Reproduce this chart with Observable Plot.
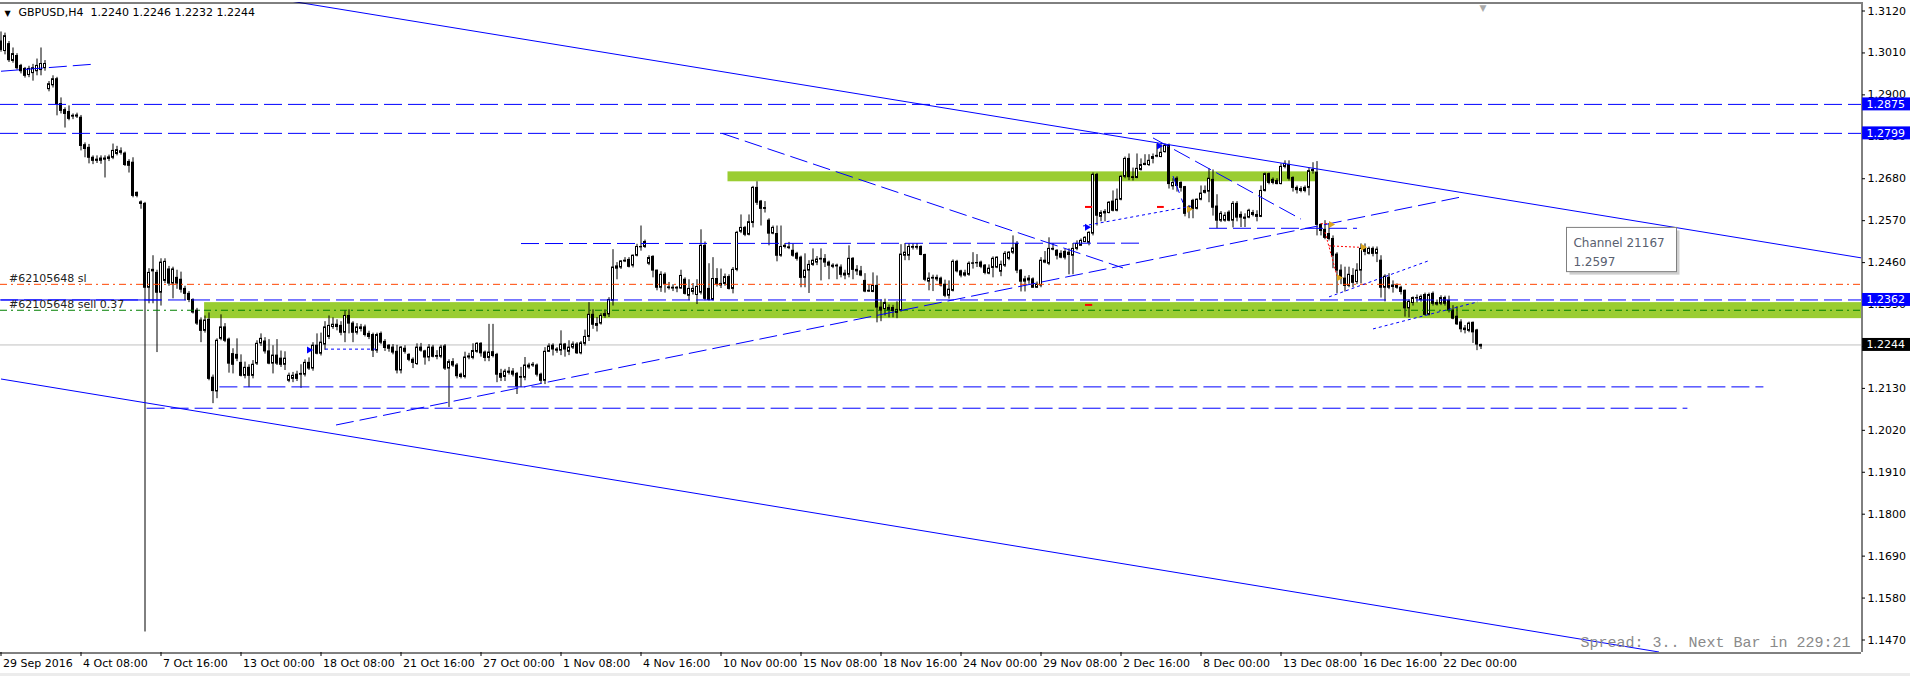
<!DOCTYPE html>
<html><head><meta charset="utf-8">
<script src="https://cdn.jsdelivr.net/npm/d3@7"></script>
<script src="https://cdn.jsdelivr.net/npm/@observablehq/plot@0.6"></script>
<style>
html,body{margin:0;padding:0;background:#fff;}
#chart svg{display:block;}
#strip{height:3px;background:#ececec;}
</style></head><body>
<div id="chart"></div><div id="strip"></div>
<script>
// ---- DATA: GBPUSD H4 candles [open, high, low, close] ----
const ohlcSepOct = [
[1.3040,1.3065,1.3012,1.3018],[1.3015,1.3062,1.3005,1.3054],[1.3033,1.3040,1.2985,1.2991],[1.2989,1.3023,1.2983,1.3007],
[1.3002,1.3008,1.2965,1.2970],[1.2976,1.2980,1.2955,1.2962],[1.2968,1.2972,1.2944,1.2950],[1.2952,1.2975,1.2945,1.2968],
[1.2957,1.2980,1.2936,1.2970],[1.2962,1.2994,1.2950,1.2976],[1.2965,1.3023,1.2950,1.2981],[1.2970,1.2990,1.2962,1.2981],
[1.2915,1.2935,1.2908,1.2928],[1.2925,1.2950,1.2918,1.2941],[1.2941,1.2946,1.2845,1.2876],[1.2876,1.2892,1.2850,1.2858],
[1.2860,1.2866,1.2813,1.2850],[1.2855,1.2871,1.2832,1.2837],[1.2845,1.2850,1.2835,1.2843],[1.2843,1.2852,1.2838,1.2846],
[1.2840,1.2846,1.2753,1.2766],[1.2768,1.2774,1.2735,1.2758],[1.2761,1.2770,1.2719,1.2735],[1.2735,1.2740,1.2717,1.2727],
[1.2730,1.2740,1.2720,1.2727],[1.2727,1.2740,1.2718,1.2733],[1.2733,1.2740,1.2682,1.2730],[1.2732,1.2742,1.2725,1.2736],
[1.2735,1.2771,1.2730,1.2753],[1.2745,1.2765,1.2740,1.2755],[1.2752,1.2761,1.2742,1.2748],[1.2746,1.2750,1.2712,1.2716],
[1.2724,1.2730,1.2695,1.2714],[1.2722,1.2735,1.2630,1.2635],[1.2643,1.2645,1.2630,1.2635],[1.2618,1.2622,1.2600,1.2614],
[1.2614,1.2618,1.1491,1.2394],[1.2394,1.2444,1.2352,1.2433],[1.2441,1.2478,1.2352,1.2437],[1.2433,1.2440,1.2224,1.2381],
[1.2381,1.2470,1.2346,1.2460],[1.2412,1.2470,1.2405,1.2462],[1.2442,1.2450,1.2398,1.2405],[1.2405,1.2448,1.2365,1.2442],
[1.2420,1.2440,1.2390,1.2405],[1.2415,1.2435,1.2380,1.2389],[1.2391,1.2398,1.2360,1.2378],[1.2378,1.2384,1.2355,1.2362],
[1.2362,1.2365,1.2325,1.2329],[1.2334,1.2340,1.2295,1.2300],[1.2308,1.2315,1.2250,1.2281],[1.2281,1.2320,1.2275,1.2308],
[1.2310,1.2328,1.2150,1.2155],[1.2158,1.2165,1.2090,1.2123],[1.2122,1.2260,1.2103,1.2255],[1.2260,1.2323,1.2255,1.2290],
[1.2290,1.2300,1.2250,1.2255],[1.2258,1.2262,1.2170,1.2195],[1.2220,1.2234,1.2168,1.2192],[1.2218,1.2260,1.2200,1.2208],
[1.2197,1.2218,1.2160,1.2163],[1.2163,1.2199,1.2155,1.2184],[1.2184,1.2192,1.2132,1.2163],[1.2163,1.2203,1.2155,1.2192],
[1.2195,1.2255,1.2190,1.2247],[1.2248,1.2273,1.2240,1.2260],[1.2253,1.2263,1.2220,1.2227],[1.2227,1.2258,1.2192,1.2195],
[1.2195,1.2242,1.2168,1.2216],[1.2216,1.2258,1.2190,1.2195],[1.2208,1.2228,1.2185,1.2192],[1.2192,1.2226,1.2177,1.2208],
[1.2150,1.2170,1.2145,1.2163],[1.2155,1.2172,1.2145,1.2163],[1.2166,1.2175,1.2148,1.2155],[1.2168,1.2192,1.2130,1.2166],
[1.2166,1.2205,1.2160,1.2197],[1.2197,1.2210,1.2177,1.2182],[1.2182,1.2250,1.2175,1.2242],[1.2242,1.2273,1.2218,1.2221],
[1.2221,1.2275,1.2215,1.2250],[1.2245,1.2305,1.2230,1.2290],[1.2265,1.2320,1.2258,1.2294],[1.2291,1.2315,1.2285,1.2297],
[1.2297,1.2310,1.2281,1.2291],[1.2294,1.2305,1.2268,1.2276],[1.2276,1.2334,1.2250,1.2320],[1.2320,1.2336,1.2273,1.2300],
[1.2300,1.2305,1.2250,1.2276],[1.2276,1.2300,1.2270,1.2290],[1.2290,1.2298,1.2278,1.2286],[1.2290,1.2296,1.2265,1.2270],
[1.2273,1.2280,1.2258,1.2265],[1.2270,1.2275,1.2211,1.2229],[1.2229,1.2275,1.2222,1.2270],[1.2273,1.2278,1.2245,1.2250],
[1.2252,1.2258,1.2227,1.2236],[1.2242,1.2245,1.2225,1.2234],[1.2237,1.2245,1.2218,1.2224],[1.2226,1.2243,1.2168,1.2177]
];
const ohlcOctNov = [
[1.2177,1.2240,1.2168,1.2237],[1.2234,1.2242,1.2220,1.2226],[1.2218,1.2221,1.2200,1.2205],[1.2205,1.2210,1.2182,1.2197],
[1.2194,1.2247,1.2190,1.2237],[1.2237,1.2248,1.2225,1.2229],[1.2227,1.2230,1.2191,1.2211],[1.2211,1.2245,1.2200,1.2237],
[1.2237,1.2243,1.2210,1.2213],[1.2215,1.2229,1.2205,1.2213],[1.2213,1.2243,1.2208,1.2237],[1.2240,1.2245,1.2177,1.2182],
[1.2182,1.2205,1.2080,1.2199],[1.2199,1.2208,1.2185,1.2190],[1.2190,1.2195,1.2155,1.2162],[1.2166,1.2170,1.2155,1.2160],
[1.2160,1.2225,1.2155,1.2211],[1.2211,1.2222,1.2205,1.2214],[1.2210,1.2247,1.2205,1.2228],[1.2226,1.2250,1.2222,1.2247],
[1.2247,1.2250,1.2212,1.2222],[1.2224,1.2228,1.2200,1.2210],[1.2210,1.2298,1.2200,1.2224],[1.2225,1.2298,1.2210,1.2215],
[1.2218,1.2222,1.2145,1.2166],[1.2168,1.2180,1.2148,1.2158],[1.2160,1.2180,1.2148,1.2174],[1.2174,1.2185,1.2165,1.2171],
[1.2174,1.2182,1.2160,1.2166],[1.2168,1.2172,1.2114,1.2135],[1.2160,1.2185,1.2132,1.2158],[1.2158,1.2211,1.2150,1.2190],
[1.2185,1.2196,1.2180,1.2190],[1.2190,1.2198,1.2185,1.2192],[1.2190,1.2194,1.2160,1.2166],[1.2166,1.2170,1.2142,1.2150],
[1.2150,1.2237,1.2140,1.2226],[1.2226,1.2247,1.2224,1.2240],[1.2242,1.2247,1.2215,1.2232],[1.2232,1.2237,1.2222,1.2229],
[1.2229,1.2281,1.2216,1.2245],[1.2245,1.2248,1.2212,1.2232],[1.2226,1.2255,1.2216,1.2237],[1.2237,1.2252,1.2232,1.2245],
[1.2245,1.2250,1.2219,1.2222],[1.2222,1.2253,1.2218,1.2248],[1.2247,1.2283,1.2241,1.2265],[1.2265,1.2355,1.2253,1.2323],
[1.2323,1.2336,1.2285,1.2297],[1.2294,1.2316,1.2278,1.2299],[1.2300,1.2326,1.2296,1.2320],[1.2320,1.2336,1.2314,1.2325],
[1.2324,1.2368,1.2316,1.2362],[1.2360,1.2494,1.2346,1.2447],[1.2444,1.2460,1.2415,1.2450],[1.2447,1.2465,1.2442,1.2463],
[1.2463,1.2473,1.2460,1.2465],[1.2467,1.2473,1.2446,1.2449],[1.2452,1.2480,1.2446,1.2478],[1.2478,1.2508,1.2475,1.2501],
[1.2500,1.2556,1.2490,1.2501],[1.2501,1.2519,1.2497,1.2514],[1.2457,1.2478,1.2452,1.2472],[1.2475,1.2478,1.2420,1.2439],
[1.2439,1.2440,1.2386,1.2394],[1.2394,1.2436,1.2382,1.2428],[1.2428,1.2433,1.2380,1.2404],[1.2395,1.2408,1.2388,1.2393],
[1.2392,1.2402,1.2384,1.2394],[1.2394,1.2397,1.2381,1.2392],[1.2392,1.2440,1.2390,1.2425],[1.2415,1.2420,1.2375,1.2378],
[1.2373,1.2415,1.2360,1.2391],[1.2383,1.2405,1.2375,1.2391],[1.2375,1.2415,1.2350,1.2396],[1.2381,1.2546,1.2375,1.2504],
[1.2504,1.2514,1.2360,1.2365],[1.2391,1.2457,1.2359,1.2362],[1.2362,1.2473,1.2359,1.2417],[1.2417,1.2444,1.2396,1.2404],
[1.2400,1.2443,1.2392,1.2404],[1.2404,1.2430,1.2398,1.2422],[1.2422,1.2428,1.2388,1.2391],[1.2391,1.2447,1.2378,1.2441],
[1.2441,1.2542,1.2436,1.2538],[1.2541,1.2585,1.2536,1.2551],[1.2551,1.2555,1.2528,1.2533],[1.2533,1.2585,1.2530,1.2566],
[1.2564,1.2660,1.2551,1.2656],[1.2656,1.2672,1.2610,1.2617],[1.2620,1.2623,1.2556,1.2601],[1.2603,1.2620,1.2590,1.2601],
[1.2570,1.2575,1.2504,1.2536],[1.2536,1.2556,1.2533,1.2551],[1.2535,1.2556,1.2462,1.2478],[1.2478,1.2556,1.2474,1.2501],
[1.2501,1.2510,1.2496,1.2504],[1.2500,1.2513,1.2494,1.2498],[1.2491,1.2509,1.2474,1.2478],[1.2483,1.2487,1.2464,1.2470]
];
const ohlcNovDec = [
[1.2473,1.2477,1.2394,1.2420],[1.2420,1.2483,1.2394,1.2439],[1.2439,1.2465,1.2379,1.2454],[1.2454,1.2496,1.2450,1.2465],
[1.2460,1.2476,1.2452,1.2468],[1.2468,1.2496,1.2412,1.2470],[1.2469,1.2481,1.2447,1.2460],[1.2460,1.2464,1.2415,1.2452],
[1.2452,1.2457,1.2444,1.2449],[1.2452,1.2456,1.2415,1.2450],[1.2447,1.2454,1.2420,1.2428],[1.2426,1.2440,1.2415,1.2431],
[1.2428,1.2504,1.2420,1.2470],[1.2470,1.2473,1.2415,1.2441],[1.2441,1.2452,1.2426,1.2437],[1.2437,1.2450,1.2423,1.2426],
[1.2412,1.2431,1.2381,1.2384],[1.2386,1.2402,1.2382,1.2384],[1.2383,1.2433,1.2381,1.2399],[1.2399,1.2425,1.2302,1.2342],
[1.2342,1.2362,1.2305,1.2334],[1.2338,1.2364,1.2320,1.2354],[1.2341,1.2349,1.2315,1.2334],[1.2341,1.2348,1.2315,1.2333],
[1.2328,1.2357,1.2313,1.2336],[1.2334,1.2507,1.2330,1.2481],[1.2478,1.2510,1.2465,1.2486],[1.2478,1.2510,1.2465,1.2501],
[1.2499,1.2509,1.2493,1.2501],[1.2499,1.2510,1.2493,1.2501],[1.2501,1.2504,1.2478,1.2480],[1.2480,1.2482,1.2410,1.2415],
[1.2410,1.2433,1.2386,1.2418],[1.2418,1.2427,1.2384,1.2420],[1.2420,1.2427,1.2410,1.2416],[1.2418,1.2422,1.2396,1.2400],
[1.2402,1.2414,1.2368,1.2373],[1.2373,1.2412,1.2364,1.2389],[1.2386,1.2467,1.2383,1.2462],[1.2462,1.2466,1.2433,1.2437],
[1.2437,1.2440,1.2420,1.2426],[1.2426,1.2440,1.2422,1.2432],[1.2428,1.2462,1.2424,1.2457],[1.2458,1.2486,1.2443,1.2457],
[1.2458,1.2481,1.2447,1.2459],[1.2460,1.2464,1.2444,1.2449],[1.2452,1.2455,1.2428,1.2433],[1.2431,1.2454,1.2428,1.2444],
[1.2446,1.2475,1.2420,1.2470],[1.2447,1.2475,1.2444,1.2473],[1.2436,1.2464,1.2423,1.2454],[1.2452,1.2489,1.2447,1.2483],
[1.2470,1.2489,1.2465,1.2486],[1.2486,1.2530,1.2481,1.2497],[1.2509,1.2515,1.2431,1.2439],[1.2439,1.2442,1.2383,1.2410],
[1.2410,1.2424,1.2383,1.2416],[1.2413,1.2426,1.2403,1.2418],[1.2416,1.2420,1.2394,1.2394],[1.2394,1.2409,1.2392,1.2402],
[1.2400,1.2473,1.2394,1.2465],[1.2460,1.2489,1.2457,1.2465],[1.2457,1.2525,1.2452,1.2496],[1.2496,1.2510,1.2491,1.2494],
[1.2491,1.2494,1.2467,1.2478],[1.2483,1.2491,1.2470,1.2473],[1.2488,1.2494,1.2467,1.2473],[1.2486,1.2496,1.2428,1.2480],
[1.2478,1.2510,1.2428,1.2496],[1.2496,1.2517,1.2491,1.2509],[1.2504,1.2522,1.2504,1.2517],[1.2514,1.2528,1.2512,1.2525],
[1.2512,1.2541,1.2504,1.2538],[1.2536,1.2695,1.2530,1.2690],[1.2690,1.2694,1.2556,1.2583],[1.2580,1.2596,1.2567,1.2590],
[1.2589,1.2599,1.2567,1.2593],[1.2590,1.2620,1.2588,1.2617],[1.2620,1.2648,1.2593,1.2596],[1.2596,1.2653,1.2593,1.2625],
[1.2625,1.2688,1.2622,1.2685],[1.2685,1.2737,1.2680,1.2732],[1.2732,1.2745,1.2675,1.2684],[1.2684,1.2708,1.2674,1.2682],
[1.2682,1.2745,1.2680,1.2706],[1.2703,1.2732,1.2700,1.2716],[1.2716,1.2743,1.2714,1.2719],[1.2716,1.2743,1.2712,1.2727],
[1.2732,1.2745,1.2719,1.2737],[1.2738,1.2771,1.2735,1.2740],[1.2737,1.2771,1.2735,1.2748],[1.2750,1.2771,1.2747,1.2766],
[1.2766,1.2771,1.2653,1.2666],[1.2660,1.2680,1.2650,1.2669],[1.2680,1.2685,1.2645,1.2661],[1.2669,1.2672,1.2645,1.2656],
[1.2658,1.2660,1.2580,1.2588],[1.2596,1.2610,1.2575,1.2605],[1.2622,1.2626,1.2575,1.2601],[1.2601,1.2627,1.2598,1.2625]
];
const ohlcDec = [
[1.2625,1.2661,1.2622,1.2641],[1.2643,1.2661,1.2640,1.2648],[1.2646,1.2706,1.2617,1.2680],[1.2677,1.2703,1.2582,1.2604],
[1.2607,1.2638,1.2549,1.2570],[1.2570,1.2594,1.2565,1.2588],[1.2570,1.2591,1.2566,1.2583],[1.2591,1.2596,1.2567,1.2570],
[1.2570,1.2620,1.2551,1.2614],[1.2614,1.2620,1.2567,1.2578],[1.2585,1.2593,1.2552,1.2578],[1.2578,1.2588,1.2552,1.2575],
[1.2578,1.2600,1.2575,1.2596],[1.2590,1.2597,1.2580,1.2585],[1.2585,1.2596,1.2567,1.2580],[1.2580,1.2661,1.2578,1.2648],
[1.2648,1.2695,1.2645,1.2692],[1.2692,1.2695,1.2664,1.2669],[1.2677,1.2682,1.2664,1.2669],[1.2674,1.2680,1.2664,1.2666],
[1.2666,1.2719,1.2664,1.2711],[1.2711,1.2727,1.2706,1.2719],[1.2716,1.2727,1.2674,1.2680],[1.2682,1.2685,1.2645,1.2656],
[1.2656,1.2661,1.2640,1.2650],[1.2653,1.2659,1.2643,1.2648],[1.2656,1.2661,1.2643,1.2648],[1.2656,1.2708,1.2635,1.2700],
[1.2700,1.2722,1.2692,1.2703],[1.2696,1.2725,1.2530,1.2559],[1.2559,1.2562,1.2530,1.2543],[1.2546,1.2570,1.2520,1.2525],
[1.2535,1.2562,1.2517,1.2522],[1.2522,1.2530,1.2444,1.2478],[1.2481,1.2486,1.2379,1.2439],[1.2439,1.2454,1.2402,1.2418],
[1.2418,1.2448,1.2383,1.2399],[1.2399,1.2448,1.2394,1.2428],[1.2425,1.2444,1.2394,1.2407],[1.2409,1.2457,1.2402,1.2439],
[1.2439,1.2509,1.2404,1.2496],[1.2496,1.2509,1.2478,1.2488],[1.2483,1.2501,1.2480,1.2496],[1.2496,1.2501,1.2475,1.2483],
[1.2483,1.2501,1.2460,1.2494],[1.2465,1.2478,1.2367,1.2394],[1.2394,1.2428,1.2357,1.2423],[1.2420,1.2431,1.2389,1.2394],
[1.2400,1.2412,1.2380,1.2396],[1.2400,1.2404,1.2390,1.2394],[1.2394,1.2398,1.2375,1.2383],[1.2386,1.2388,1.2317,1.2340],
[1.2340,1.2362,1.2315,1.2357],[1.2354,1.2370,1.2346,1.2367],[1.2367,1.2375,1.2354,1.2366],[1.2362,1.2375,1.2356,1.2370],
[1.2375,1.2380,1.2320,1.2323],[1.2323,1.2380,1.2320,1.2375],[1.2378,1.2383,1.2346,1.2352],[1.2354,1.2362,1.2346,1.2350],
[1.2352,1.2373,1.2347,1.2367],[1.2367,1.2372,1.2346,1.2352],[1.2360,1.2372,1.2328,1.2334],[1.2334,1.2347,1.2310,1.2313],
[1.2318,1.2344,1.2295,1.2298],[1.2303,1.2310,1.2276,1.2285],[1.2287,1.2295,1.2273,1.2283],[1.2281,1.2304,1.2276,1.2300],
[1.2302,1.2304,1.2248,1.2277],[1.2282,1.2285,1.2229,1.2245],[1.2240,1.2246,1.2232,1.2244]
];

// time axis labels (bar index -> label)
const tickBars = [0,20,40,60,80,100,120,140,160,180,200,220,240,260,280,300,320,340,360];
const tickLabels = ["29 Sep 2016","4 Oct 08:00","7 Oct 16:00","13 Oct 00:00","18 Oct 08:00","21 Oct 16:00","27 Oct 00:00",
  "1 Nov 08:00","4 Nov 16:00","10 Nov 00:00","15 Nov 08:00","18 Nov 16:00","24 Nov 00:00","29 Nov 08:00","2 Dec 16:00",
  "8 Dec 00:00","13 Dec 08:00","16 Dec 16:00","22 Dec 00:00"];
const yTicks = [1.3120,1.3010,1.2900,1.2790,1.2680,1.2570,1.2460,1.2350,1.2240,1.2130,1.2020,1.1910,1.1800,1.1690,1.1580,1.1470];

// horizontal levels
const hLevels = [1.2875, 1.2799, 1.2362];
const bidPrice = 1.2244;
const slPrice = 1.2403;
const sellPrice = 1.2335;
const priceTags = [{p:1.2875,bg:"#0000ff"},{p:1.2799,bg:"#0000ff"},{p:1.2362,bg:"#0000ff"},{p:1.2244,bg:"#000000"}];

// zones [bar1, bar2, priceLow, priceHigh]
const zones = [[50.9, 465.25, 1.2313, 1.2355], [181.75, 328.75, 1.2672, 1.2698]];

// lines [bar1, price1, bar2, price2]
const solidLines = [[72.25,1.31462,465.25,1.24721],[0,1.21547,414.5,1.14385],[0,1.2362,40,1.2362]];
const dashedLines = [
  [0,1.2962,22.5,1.2980],[130,1.2510,284.5,1.2511],[302,1.2550,339,1.2550],
  [54.6,1.2134,440.6,1.2134],[36.4,1.2078,421.6,1.2078],
  [83.75,1.2034,364.5,1.2631],[180.25,1.2799,280.5,1.2446],[288,1.2787,325,1.2574],[293,1.2687,295.5,1.2617]
];
const dottedLines = [[270.5,1.2556,297.5,1.2608],[332,1.2370,356.7,1.2464],[343,1.2286,369.2,1.2357],[81,1.2233,94.5,1.2233]];
const redDotted = [[332,1.2504,340,1.2500],[330,1.2562,332.5,1.2562],[331,1.2540,334,1.2425]];
const redMarks = [[271,1.2606,272.8,1.2606],[271,1.2349,272.8,1.2349],[289,1.2606,290.7,1.2606]];
const blueArrows = [[77,1.2231],[271.5,1.2553],[289.5,1.2766]];
const goldArrows = [[297,1.2600],[332.5,1.2560],[340.5,1.2500],[334.5,1.2420]];

// channel tooltip [bar1, bar2, priceTop, priceBottom]
const tip = [{x1:391.5, x2:419, y1:1.2551, y2:1.2435}];
const tipLines = ["Channel 21167", "1.2597"];

const titleText = "GBPUSD,H4\u00a0\u00a01.2240 1.2246 1.2232 1.2244";
const statusText = "Spread: 3.. Next Bar in 229:21";
const orderLabels = ["#62105648 sl", "#62105648 sell 0.37"];

// ---- BUILD ----
const bars = [...ohlcSepOct, ...ohlcOctNov, ...ohlcNovDec, ...ohlcDec].map((d,i)=>({i, o:d[0], h:d[1], l:d[2], c:d[3]}));
const xDomain = [0, 465.25];
const yDomain = [1.14359, 1.31410];
const tagHalf = 0.0017;
const F = "DejaVu Sans";
const seg = (arr, opts) => Plot.link(arr, {x1:d=>d[0], y1:d=>d[1], x2:d=>d[2], y2:d=>d[3], clip:true, ...opts});

const chart = Plot.plot({
  width: 1910, height: 673,
  marginTop: 2, marginBottom: 21, marginLeft: 0, marginRight: 49,
  style: {fontFamily: F, fontSize: "11px", background: "#fff", color: "#000", overflow: "visible"},
  x: {domain: xDomain, range: [0.5, 1861.5], ticks: tickBars, tickFormat: () => "", tickSize: 4, label: null},
  y: {domain: yDomain, range: [652.5, 2.5], axis: "right", ticks: yTicks, tickFormat: d3.format(".4f"), tickSize: 3, tickPadding: 3, label: null},
  marks: [
    Plot.rect(zones, {x1:d=>d[0], x2:d=>d[1], y1:d=>d[2], y2:d=>d[3], fill:"#9acd32", clip:true}),
    Plot.ruleY([bidPrice], {stroke:"#c0c0c0"}),
    Plot.ruleX(bars, {x:"i", y1:"l", y2:"h", stroke:"#000", strokeWidth:1, clip:true}),
    Plot.rect(bars, {x1:d=>d.i-0.25, x2:d=>d.i+0.25, y1:"o", y2:"c", fill:d=>d.c>=d.o?"#fff":"#000", stroke:"#000", strokeWidth:1}),
    Plot.ruleY(hLevels, {stroke:"#0000ff", strokeDasharray:"18,6"}),
    Plot.ruleY([slPrice], {stroke:"#ff4500", strokeDasharray:"7,4,2,4"}),
    Plot.ruleY([sellPrice], {stroke:"#008000", strokeDasharray:"7,4,2,4"}),
    seg(solidLines, {stroke:"#0000ff"}),
    seg(dashedLines, {stroke:"#0000ff", strokeDasharray:"18,6"}),
    seg(dottedLines, {stroke:"#0000ff", strokeDasharray:"3,3"}),
    seg(redDotted, {stroke:"#ff0000", strokeDasharray:"2,2"}),
    seg(redMarks, {stroke:"#ff0000", strokeWidth:2}),
    Plot.dot(blueArrows, {x:d=>d[0], y:d=>d[1], symbol:"triangle", rotate:90, r:2.6, fill:"#0000ff"}),
    Plot.dot(goldArrows, {x:d=>d[0], y:d=>d[1], symbol:"triangle", rotate:90, r:2.6, fill:"#daa520"}),
    Plot.text([orderLabels[0]], {x:2, y:slPrice, text:d=>d, textAnchor:"start", lineAnchor:"bottom", dy:-2, fontFamily:F, fontSize:11, fill:"#222"}),
    Plot.text([orderLabels[1]], {x:2, y:sellPrice, text:d=>d, textAnchor:"start", lineAnchor:"bottom", dy:-2, fontFamily:F, fontSize:11, fill:"#222"}),
    // channel tooltip
    Plot.rect(tip, {x1:"x1", x2:"x2", y1:"y1", y2:"y2", dx:3, dy:3, fill:"#cfcfcf"}),
    Plot.rect(tip, {x1:"x1", x2:"x2", y1:"y1", y2:"y2", fill:"#fff", stroke:"#7f7f7f"}),
    Plot.text(tip, {x:d=>d.x1+1.6, y:"y1", text:()=>tipLines[0], textAnchor:"start", lineAnchor:"bottom", dy:19, fontFamily:F, fontSize:12, fill:"#596070"}),
    Plot.text(tip, {x:d=>d.x1+1.6, y:"y1", text:()=>tipLines[1], textAnchor:"start", lineAnchor:"bottom", dy:38, fontFamily:F, fontSize:12, fill:"#596070"}),
    // title & status
    Plot.text(["\u25bc"], {frameAnchor:"top-left", dx:7, dy:13.5, text:d=>d, textAnchor:"middle", lineAnchor:"bottom", fontFamily:F, fontSize:8, fill:"#000"}),
    Plot.text([titleText], {frameAnchor:"top-left", dx:18, dy:6, text:d=>d, textAnchor:"start", lineAnchor:"top", fontFamily:F, fontSize:11, fill:"#000"}),
    Plot.text(["\u25bc"], {x:[370.5], frameAnchor:"top", dy:8, text:d=>d, textAnchor:"middle", lineAnchor:"bottom", fontFamily:F, fontSize:9, fill:"#a9a9a9"}),
    Plot.text([statusText], {frameAnchor:"bottom-right", dx:-11, dy:-5.5, text:d=>d, textAnchor:"end", lineAnchor:"bottom", fontFamily:"Liberation Mono", fontSize:15, fill:"#8a8a8a"}),
    // time labels
    Plot.text(tickLabels, {x:(d,k)=>tickBars[k], frameAnchor:"bottom", dx:2, dy:7, text:d=>d, textAnchor:"start", lineAnchor:"top", fontFamily:F, fontSize:11, fill:"#000"}),
    // frame
    Plot.ruleY([yDomain[1]], {stroke:"#000"}),
    Plot.ruleY([yDomain[0]], {stroke:"#000"}),
    Plot.ruleX([xDomain[1]], {stroke:"#000"}),
    // price tags on axis
    Plot.rect(priceTags, {x1:465.4, x2:477.5, y1:d=>d.p-tagHalf, y2:d=>d.p+tagHalf, fill:"bg"}),
    Plot.text(priceTags, {x:466.4, y:"p", text:d=>d.p.toFixed(4), textAnchor:"start", lineAnchor:"middle", fontFamily:F, fontSize:11, fill:"#fff"})
  ]
});
document.getElementById("chart").appendChild(chart);
</script>
</body></html>
